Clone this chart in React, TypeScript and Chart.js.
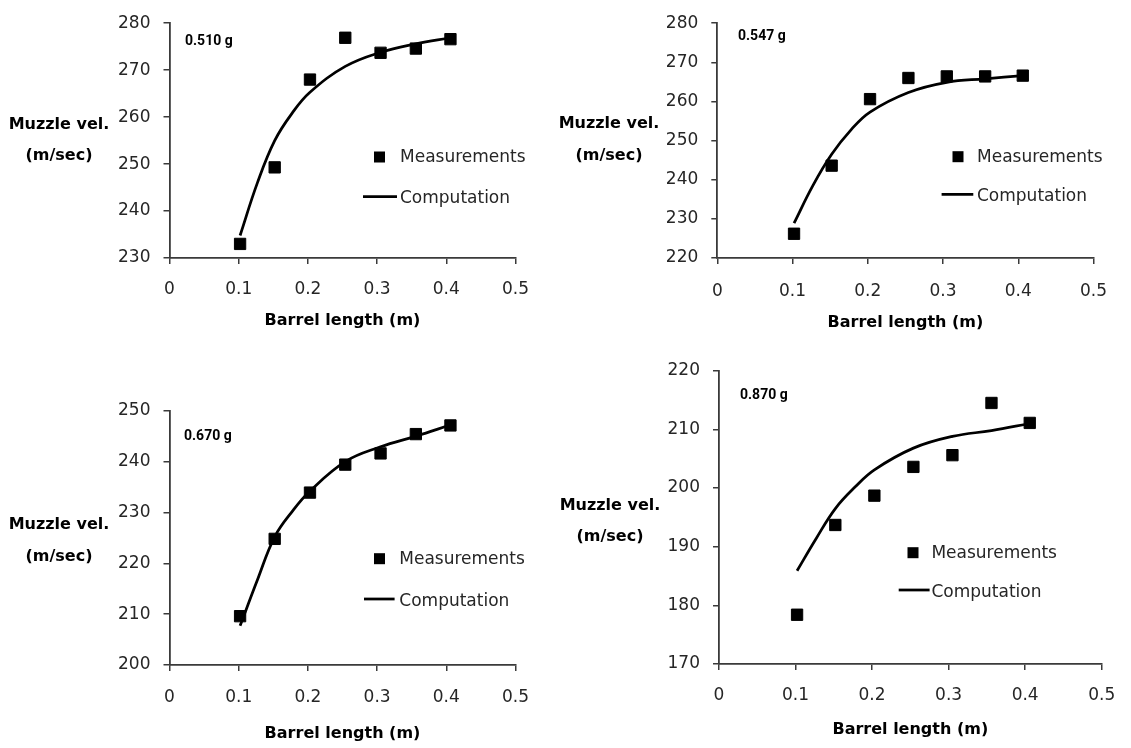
import React, { useEffect, useRef } from 'react';
import { Chart, registerables } from 'chart.js';

Chart.register(...registerables);

// ---------- data ----------
const barrelLengths = [0.102, 0.152, 0.203, 0.254, 0.305, 0.356, 0.406];
const computationLengths = [0.102, 0.127, 0.152, 0.178, 0.203, 0.254, 0.305, 0.356, 0.406];
const xTickLabels = ['0', '0.1', '0.2', '0.3', '0.4', '0.5'];
const massLabels = ['0.510 g', '0.547 g', '0.670 g', '0.870 g'];

const measured510 = [233, 249.3, 268, 276.9, 273.7, 274.6, 276.6];
const computed510 = [234.8, 246, 255, 261, 265.3, 270.8, 273.8, 275.6, 276.9];
const yRange510 = [230, 280];

const measured547 = [226.2, 243.6, 260.6, 266, 266.4, 266.4, 266.6];
const computed547 = [228.9, 238.5, 246.5, 252.8, 257.3, 262.3, 264.9, 265.8, 266.6];
const yRange547 = [220, 280];

const measured670 = [209.6, 224.8, 233.9, 239.4, 241.6, 245.4, 247.1];
const computed670 = [207.7, 216.7, 225.2, 230.3, 234.2, 240, 242.9, 245, 247.2];
const yRange670 = [200, 250];

const measured870 = [178.4, 193.7, 198.7, 203.6, 205.6, 214.5, 211.1];
const computed870 = [185.9, 191.4, 196.5, 200.2, 203.1, 206.8, 208.8, 209.8, 211];
const yRange870 = [170, 220];

const legendLabels = ['Measurements', 'Computation'];
const xTitle = 'Barrel length (m)';
const yTitleLines = ['Muzzle vel.', '(m/sec)'];

// ---------- layout (positions/styles only) ----------
const panels = [
  {
    measured: measured510, computed: computed510, yRange: yRange510, mass: massLabels[0],
    canvas: { left: 0, top: 0, width: 560, height: 345 },
    area: { l: 169.5, t: 15.5, r: 515.5, b: 258 },
    xTickY: 289, titleY: 320,
    yTitle: { cx: 59, y1: 128.5, y2: 160 },
    massPos: { x: 185, y: 45 },
    legend: { mx: 379.5, my: 157, tx: 400, lx1: 363, lx2: 397, ly: 196.7 },
  },
  {
    measured: measured547, computed: computed547, yRange: yRange547, mass: massLabels[1],
    canvas: { left: 560, top: 0, width: 571, height: 345 },
    area: { l: 157.3, t: 15, r: 533.5, b: 258 },
    xTickY: 291, titleY: 322,
    yTitle: { cx: 49, y1: 128, y2: 160 },
    massPos: { x: 178, y: 39.5 },
    legend: { mx: 398, my: 156.7, tx: 417, lx1: 381.6, lx2: 413.3, ly: 194.3 },
  },
  {
    measured: measured670, computed: computed670, yRange: yRange670, mass: massLabels[2],
    canvas: { left: 0, top: 345, width: 560, height: 403 },
    area: { l: 169.5, t: 65.7, r: 515.5, b: 320 },
    xTickY: 352, titleY: 388,
    yTitle: { cx: 59, y1: 184, y2: 216 },
    massPos: { x: 184, y: 95 },
    legend: { mx: 379.5, my: 213.7, tx: 399.3, lx1: 364, lx2: 394.6, ly: 254 },
  },
  {
    measured: measured870, computed: computed870, yRange: yRange870, mass: massLabels[3],
    canvas: { left: 560, top: 345, width: 571, height: 403 },
    area: { l: 159, t: 25.7, r: 549, b: 319 },
    xTickY: 350, titleY: 384,
    yTitle: { cx: 50, y1: 165, y2: 196 },
    massPos: { x: 180, y: 54 },
    legend: { mx: 353, my: 207.7, tx: 371.4, lx1: 338.7, lx2: 369.6, ly: 245 },
  },
];

const AXIS_COLOR = '#3a3a3a';
const TICK_COLOR = '#262626';
const TICK_FONT = { family: '"DejaVu Sans"', size: 17 };
const Y_AXIS_W = 60;
const TICK_LEN = 6;

function Panel({ spec }: { spec: any }) {
  const ref = useRef<HTMLCanvasElement>(null);

  useEffect(() => {
    const { canvas, area, xTickY, titleY } = spec;
    const titleLH = 16 * 1.2;
    const xAxisH = titleY - area.b + titleLH / 2 + 1;
    const padding = {
      left: area.l - Y_AXIS_W,
      top: area.t,
      right: canvas.width - area.r,
      bottom: canvas.height - area.b - xAxisH,
    };
    const xTickPad = xTickY - area.b - TICK_LEN - (17 * 1.2) / 2 + 1;

    const overlay = {
      id: 'overlay',
      afterDraw(chart: any) {
        const ctx = chart.ctx;
        ctx.save();
        ctx.fillStyle = '#000';
        ctx.font = 'bold 16px "DejaVu Sans"';
        ctx.textAlign = 'center';
        ctx.textBaseline = 'alphabetic';
        ctx.fillText(yTitleLines[0], spec.yTitle.cx, spec.yTitle.y1);
        ctx.fillText(yTitleLines[1], spec.yTitle.cx, spec.yTitle.y2);
        ctx.font = 'bold 14px Roboto';
        ctx.textAlign = 'left';
        ctx.fillText(spec.mass, spec.massPos.x, spec.massPos.y);
        const lg = spec.legend;
        ctx.fillStyle = '#000';
        ctx.fillRect(lg.mx - 5.5, lg.my - 5.5, 11, 11);
        ctx.strokeStyle = '#000';
        ctx.lineWidth = 2.75;
        ctx.beginPath();
        ctx.moveTo(lg.lx1, lg.ly);
        ctx.lineTo(lg.lx2, lg.ly);
        ctx.stroke();
        ctx.fillStyle = TICK_COLOR;
        ctx.font = '17px "DejaVu Sans"';
        ctx.fillText(legendLabels[0], lg.tx, lg.my + 5);
        ctx.fillText(legendLabels[1], lg.tx, lg.ly + 6.5);
        ctx.restore();
      },
    };

    const chart = new Chart(ref.current as HTMLCanvasElement, {
      type: 'scatter',
      data: {
        datasets: [
          {
            label: legendLabels[1],
            data: computationLengths.map((x, i) => ({ x, y: spec.computed[i] })),
            showLine: true,
            borderColor: '#000',
            backgroundColor: '#000',
            borderWidth: 2.75,
            pointRadius: 0,
            tension: 0.4,
            order: 1,
          },
          {
            label: legendLabels[0],
            data: barrelLengths.map((x, i) => ({ x, y: spec.measured[i] })),
            showLine: false,
            pointStyle: 'rect',
            pointRadius: 8,
            borderWidth: 1,
            borderColor: '#000',
            backgroundColor: '#000',
            order: 2,
          },
        ],
      } as any,
      options: {
        animation: false,
        responsive: false,
        maintainAspectRatio: false,
        layout: { padding },
        plugins: {
          legend: { display: false },
          tooltip: { enabled: false },
        },
        scales: {
          x: {
            type: 'linear',
            min: 0,
            max: 0.5,
            afterFit: (s: any) => { s.height = xAxisH; },
            ticks: {
              stepSize: 0.1,
              color: TICK_COLOR,
              font: TICK_FONT,
              padding: xTickPad,
              maxRotation: 0,
              callback: (_v: any, i: number) => xTickLabels[i],
            },
            grid: {
              drawOnChartArea: false,
              drawTicks: true,
              tickLength: TICK_LEN,
              color: AXIS_COLOR,
              lineWidth: 1.5,
            },
            border: { display: true, color: AXIS_COLOR, width: 1.8 },
            title: {
              display: true,
              text: xTitle,
              color: '#000',
              font: { family: '"DejaVu Sans"', size: 16, weight: 'bold' },
              padding: 0,
            },
          },
          y: {
            type: 'linear',
            min: spec.yRange[0],
            max: spec.yRange[1],
            afterFit: (s: any) => { s.width = Y_AXIS_W; },
            ticks: {
              stepSize: 10,
              color: TICK_COLOR,
              font: TICK_FONT,
              padding: 13,
            },
            grid: {
              drawOnChartArea: false,
              drawTicks: true,
              tickLength: TICK_LEN,
              color: AXIS_COLOR,
              lineWidth: 1.5,
            },
            border: { display: true, color: AXIS_COLOR, width: 1.8 },
          },
        },
      } as any,
      plugins: [overlay],
    });
    return () => chart.destroy();
  }, [spec]);

  const c = spec.canvas;
  return (
    <canvas
      ref={ref}
      width={c.width}
      height={c.height}
      style={{ position: 'absolute', left: c.left, top: c.top, width: c.width, height: c.height }}
    />
  );
}

export default function App() {
  return (
    <div style={{ position: 'absolute', left: 0, top: 0, width: 1131, height: 748, background: '#fff', overflow: 'hidden' }}>
      {panels.map((p, i) => (
        <Panel key={i} spec={p} />
      ))}
    </div>
  );
}
